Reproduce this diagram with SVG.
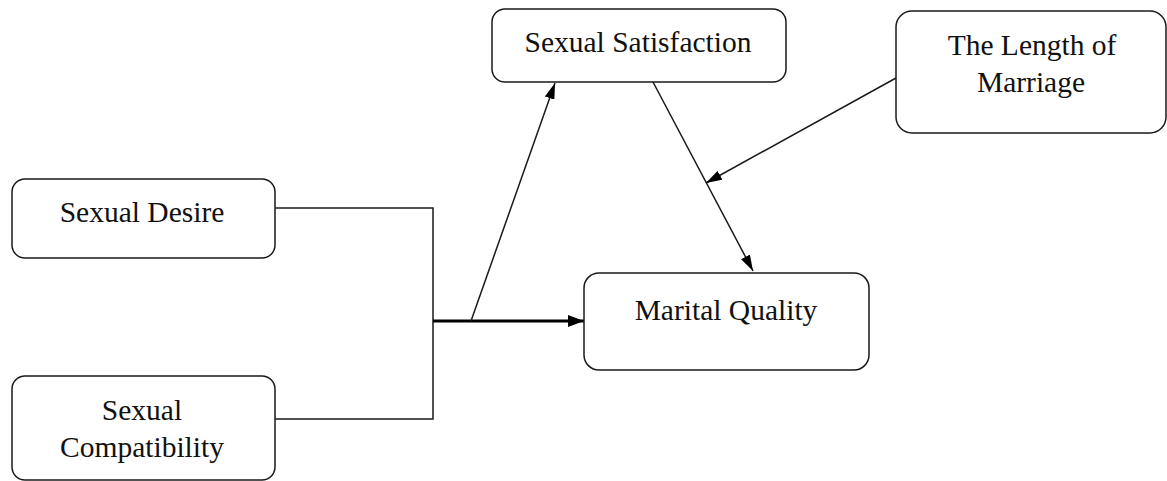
<svg xmlns="http://www.w3.org/2000/svg" width="1167" height="481" viewBox="0 0 1167 481">
<style>
.box{fill:#fff;stroke:#1a1a1a;stroke-width:1.5}
.t{font-family:"Liberation Serif","Times New Roman",serif;font-size:29.5px;fill:#111;text-anchor:middle}
.c{fill:none;stroke:#1a1a1a;stroke-width:1.5}
.thick{fill:none;stroke:#000;stroke-width:3}
</style>
<defs>
<marker id="ah" viewBox="0 0 16 10" refX="16" refY="5" markerWidth="16" markerHeight="10" markerUnits="userSpaceOnUse" orient="auto">
<path d="M0,0 L16,5 L0,10 Z" fill="#000"/>
</marker>
<marker id="ah2" viewBox="0 0 16 12" refX="16" refY="6" markerWidth="16" markerHeight="12" markerUnits="userSpaceOnUse" orient="auto">
<path d="M0,0 L16,6 L0,12 Z" fill="#000"/>
</marker>
</defs>
<g id="connectors">
<polyline class="c" points="275,208 433,208 433,419 275,419"/>
<line class="thick" x1="433" y1="321" x2="584" y2="321" marker-end="url(#ah2)"/>
<line class="c" x1="471" y1="321" x2="555" y2="83" marker-end="url(#ah)"/>
<line class="c" x1="653" y1="82" x2="753" y2="271" marker-end="url(#ah)"/>
<line class="c" x1="896" y1="78" x2="706" y2="183" marker-end="url(#ah)"/>
</g>
<g id="sexual-desire">
<rect class="box" x="12" y="179" width="263" height="79" rx="13"/>
<text class="t" x="142" y="222">Sexual Desire</text>
</g>
<g id="sexual-compatibility">
<rect class="box" x="12" y="376" width="263" height="104" rx="13"/>
<text class="t" x="142" y="420">Sexual</text>
<text class="t" x="142" y="457">Compatibility</text>
</g>
<g id="sexual-satisfaction">
<rect class="box" x="492" y="9" width="294" height="73" rx="13"/>
<text class="t" x="638" y="52">Sexual Satisfaction</text>
</g>
<g id="marital-quality">
<rect class="box" x="584" y="273" width="285" height="97" rx="15"/>
<text class="t" x="726" y="320">Marital Quality</text>
</g>
<g id="length-of-marriage">
<rect class="box" x="896" y="11" width="270" height="122" rx="16"/>
<text class="t" x="1032" y="55">The Length of</text>
<text class="t" x="1031" y="92">Marriage</text>
</g>
</svg>
